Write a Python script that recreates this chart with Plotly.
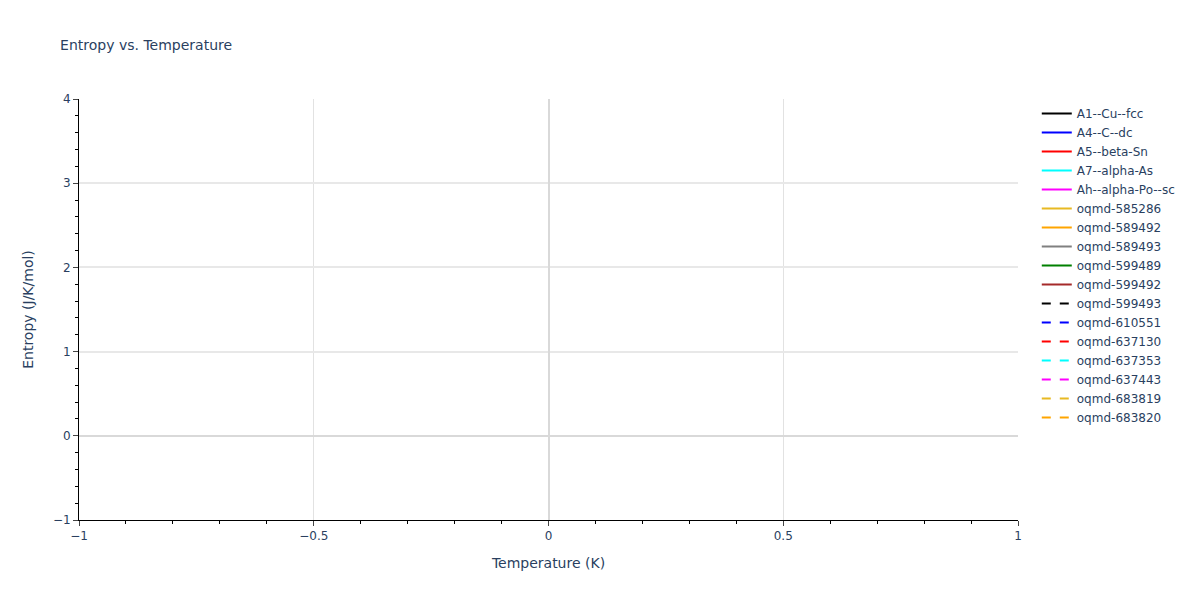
import plotly.graph_objects as go

# Series names in the legend (no data points are shown in the chart)
names = ['A1--Cu--fcc', 'A4--C--dc', 'A5--beta-Sn', 'A7--alpha-As', 'Ah--alpha-Po--sc',
         'oqmd-585286', 'oqmd-589492', 'oqmd-589493', 'oqmd-599489', 'oqmd-599492',
         'oqmd-599493', 'oqmd-610551', 'oqmd-637130', 'oqmd-637353', 'oqmd-637443',
         'oqmd-683819', 'oqmd-683820']
colors = ['black', 'blue', 'red', 'cyan', 'magenta', '#e8b923', 'orange', 'gray', 'green', 'brown']

# Temperature / entropy values: every series is blank
temperature = [None]
entropy = [None]

fig = go.Figure()
for i, name in enumerate(names):
    fig.add_trace(go.Scatter(
        x=temperature,
        y=entropy,
        mode='lines',
        name=name,
        showlegend=True,
        line=dict(color=colors[i % len(colors)], dash='solid' if i < len(colors) else 'dash')
    ))

fig.update_layout(
    title=dict(text='Entropy vs. Temperature', x=0.044, y=0.937, yanchor='middle',
               font=dict(size=14)),
    font=dict(family='Verdana, DejaVu Sans, sans-serif', size=12),
    plot_bgcolor='white',
    paper_bgcolor='white',
    margin=dict(l=71, t=91, b=72),
    xaxis_title='Temperature (K)',
    yaxis_title='Entropy (J/K/mol)',
)
fig.update_xaxes(range=[-1, 1], showline=True, linecolor='black', ticks='outside',
                 gridcolor='#e2e2e2', zerolinecolor='#d9d9d9', zerolinewidth=2,
                 minor=dict(ticks='outside', dtick=0.1, tickcolor='black'))
fig.update_yaxes(range=[-1, 4], showline=True, linecolor='black', ticks='outside',
                 gridcolor='#e8e8e8', gridwidth=2, zerolinecolor='#d9d9d9', zerolinewidth=2,
                 minor=dict(ticks='outside', dtick=0.2, tickcolor='black'))

fig.write_html("out.html")
